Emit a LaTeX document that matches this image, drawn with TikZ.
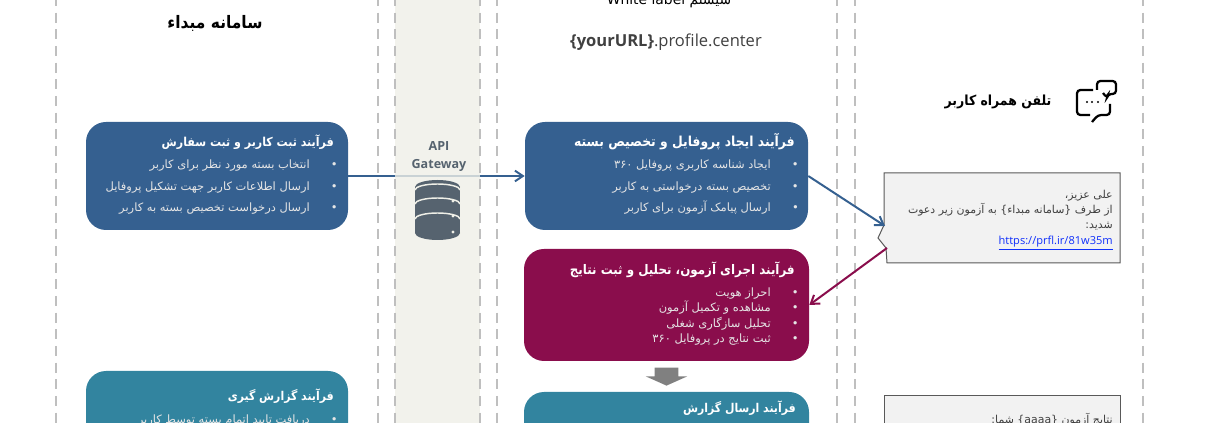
\documentclass[tikz,border=0pt]{standalone}
\usepackage{fontspec}
\usepackage{tikz}
\usetikzlibrary{shapes.arrows, arrows.meta}
\TeXXeTstate=1
\setmainfont{Open Sans}
\newfontfamily\arabicfont[Script=Arabic]{DejaVu Sans}
\newfontfamily\arabiccond[Script=Arabic]{DejaVu Sans Condensed}
\newcommand{\rl}[1]{\beginR #1\endR}
\newcommand{\lr}[1]{\beginL #1\endL{}}
\newcommand{\itemline}[1]{\rl{#1}\makebox[21pt][r]{\textbullet}}
\definecolor{laneline}{HTML}{BFBFBF}
\definecolor{gatewayfill}{HTML}{EFEFE7}
\definecolor{bluebox}{HTML}{356090}
\definecolor{maroonbox}{HTML}{8A0D4C}
\definecolor{tealbox}{HTML}{32849F}
\definecolor{smsfill}{HTML}{F2F2F2}
\definecolor{smsline}{HTML}{595959}
\definecolor{dbgray}{HTML}{56636F}
\definecolor{urlgray}{HTML}{404040}
\definecolor{linkblue}{HTML}{1030FB}
\tikzset{
  lane/.style={draw=laneline, line width=1.5pt, dash pattern=on 7.5pt off 5pt},
  procbox/.style={rounded corners=15pt, inner sep=0pt},
  proctitle/.style={anchor=east, inner sep=0pt, text=white, font=\arabiccond\bfseries\fontsize{#1}{12}\selectfont},
  proclist/.style={anchor=north east, align=right, text=white!90!black, inner sep=0pt},
  heading/.style={text=black, font=\arabiccond\bfseries\fontsize{10.4}{13}\selectfont},
  flow/.style={line width=1.5pt, ->},
  smstext/.style={anchor=north east, align=right, inner sep=0pt, text=urlgray, font=\arabicfont\fontsize{8.2}{11.3}\selectfont},
  smsbox/.style={draw=smsline, fill=smsfill, line width=0.75pt}
}
\begin{document}
\begin{tikzpicture}[x=0.75pt, y=-0.75pt, >={Straight Barb[length=6pt, width=8pt]}]
  \useasboundingbox (0,0) rectangle (1210,423);
  \clip (0,0) rectangle (1210,423);
  % process boxes
  \node[procbox, fill=bluebox, minimum width=196.5pt, minimum height=81pt] (register) at (217,176) {};
  \node[procbox, fill=bluebox, minimum width=212.25pt, minimum height=81pt] (profile) at (666.5,176) {};
  \node[procbox, fill=maroonbox, minimum width=213.75pt, minimum height=84pt] (exam) at (666.5,305) {};
  \node[procbox, fill=tealbox, minimum width=213.75pt, minimum height=75pt] (report) at (666.5,442) {};
  \node[procbox, fill=tealbox, minimum width=196.5pt, minimum height=75pt] (reporting) at (217,421) {};
  % connector under the band
  \draw[flow, bluebox] (register) -- (profile);
  % lanes
  \fill[gatewayfill, opacity=0.8] (395,-5) rectangle (480,430);
  \foreach \x in {56,378,395,480,497,837,855,1143}
    \draw[lane] (\x,-4) -- (\x,430);
  % headings
  \node[heading, font=\arabiccond\bfseries\fontsize{12.9}{15}\selectfont] (sourcetitle) at (215,23) {\rl{سامانه مبداء}};
  \node[text=black, font=\arabicfont\fontsize{10.4}{12}\selectfont] (whitelabeltitle) at (669,1) {\rl{سیستم \lr{White label}}};
  \node[text=urlgray, font=\fontsize{12.4}{15}\selectfont] (yoururl) at (666,42) {\textbf{\{yourURL\}}.profile.center};
  \node[heading] (phonetitle) at (998,102) {\rl{تلفن همراه کاربر}};
  % gateway
  \node[align=center, text=dbgray, font=\bfseries\fontsize{9.4}{13.5}\selectfont] (gateway) at (439,157) {API\\Gateway};
  \fill[dbgray] (415,187) rectangle (460,233);
  \fill[dbgray] (437.5,233) ellipse [x radius=22.5, y radius=7];
  \fill[dbgray] (437.5,187) ellipse [x radius=22.5, y radius=7];
  \foreach \y in {190,204,219}
    \draw[gatewayfill, line width=1.1pt] (415,\y) arc [start angle=180, end angle=360, x radius=22.5, y radius=6];
  \foreach \y in {201,216,232}
    \fill[gatewayfill] (453,\y) circle (1.6);
  % box texts
  \node[proctitle=9.2] (registertitle) at (334,142) {\rl{فرآیند ثبت کاربر و ثبت سفارش}};
  \node[proclist, font=\arabicfont\fontsize{8.6}{16.1}\selectfont] (registerlist) at (338,160) {%
    \itemline{انتخاب بسته مورد نظر برای کاربر}\\
    \itemline{ارسال اطلاعات کاربر جهت تشکیل پروفایل}\\
    \itemline{ارسال درخواست تخصیص بسته به کاربر}};
  \node[proctitle=10.3] (profiletitle) at (795,142) {\rl{فرآیند ایجاد پروفایل و تخصیص بسته}};
  \node[proclist, font=\arabicfont\fontsize{8.6}{16.1}\selectfont] (profilelist) at (799,160) {%
    \itemline{ایجاد شناسه کاربری پروفایل ۳۶۰}\\
    \itemline{تخصیص بسته درخواستی به کاربر}\\
    \itemline{ارسال پیامک آزمون برای کاربر}};
  \node[proctitle=9.9] (examtitle) at (795,270) {\rl{فرآیند اجرای آزمون، تحلیل و ثبت نتایج}};
  \node[proclist, font=\arabicfont\fontsize{8.6}{11.5}\selectfont] (examlist) at (799,287.5) {%
    \itemline{احراز هویت}\\
    \itemline{مشاهده و تکمیل آزمون}\\
    \itemline{تحلیل سازگاری شغلی}\\
    \itemline{ثبت نتایج در پروفایل ۳۶۰}};
  \node[proctitle=9.1] (reporttitle) at (796,408) {\rl{فرآیند ارسال گزارش}};
  \node[proctitle=9.1] (reportingtitle) at (334,396) {\rl{فرآیند گزارش گیری}};
  \node[proclist, font=\arabicfont\fontsize{8.6}{16.1}\selectfont] (reportinglist) at (338,415) {%
    \itemline{دریافت تایید اتمام بسته توسط کاربر}};
  % block arrow between boxes
  \node[single arrow, rotate=270, fill=black!50, inner sep=0pt, minimum height=13.5pt, single arrow head extend=6.75pt, single arrow tip angle=132] (examarrow) at (666.5,374) {\rule{0pt}{17.25pt}};
  % messages
  \draw[smsbox] (884,173) -- (1120,173) -- (1120,263) -- (887,263) -- (886,248) -- (878,238) -- (884,225) -- cycle;
  \coordinate (smsin) at (885,226);
  \coordinate (smsout) at (887,248);
  \node[smstext] (smsbody) at (1113,190) {\rl{علی عزیز،}\\\rl{از طرف \{سامانه مبداء\} به آزمون زیر دعوت}\\\rl{شدید:}};
  \node[anchor=north east, inner sep=0pt, text=linkblue, font=\fontsize{8.3}{11}\selectfont] (smslink) at (1113,236) {\underline{https://prfl.ir/81w35m}};
  \draw[smsbox] (884,396) -- (1120,396) -- (1120,440) -- (884,440) -- cycle;
  \node[smstext] (resultbody) at (1113,413) {\rl{نتایج آزمون \{\lr{aaaa}\} شما:}};
  \draw[flow, bluebox] (profile.east) -- (smsin);
  \draw[flow, maroonbox] (smsout) -- (exam.east);
  % phone icon
  \draw[black, line width=1.7pt, rounded corners=2.5pt] (1103,93) -- (1107,98) -- (1108,94) -- (1116,94) -- (1116,81) -- (1097,81) -- (1097,90);
  \draw[black, line width=1.7pt, rounded corners=2.5pt] (1093,90) -- (1077,90) -- (1077,115) -- (1090,115);
  \draw[black, line width=1.7pt, rounded corners=2.5pt] (1092,122) -- (1098,115) -- (1110,115) -- (1110,104);
  \foreach \x in {1087,1092,1098}
    \fill[black] (\x,102) circle (1.2);
\end{tikzpicture}
\end{document}
